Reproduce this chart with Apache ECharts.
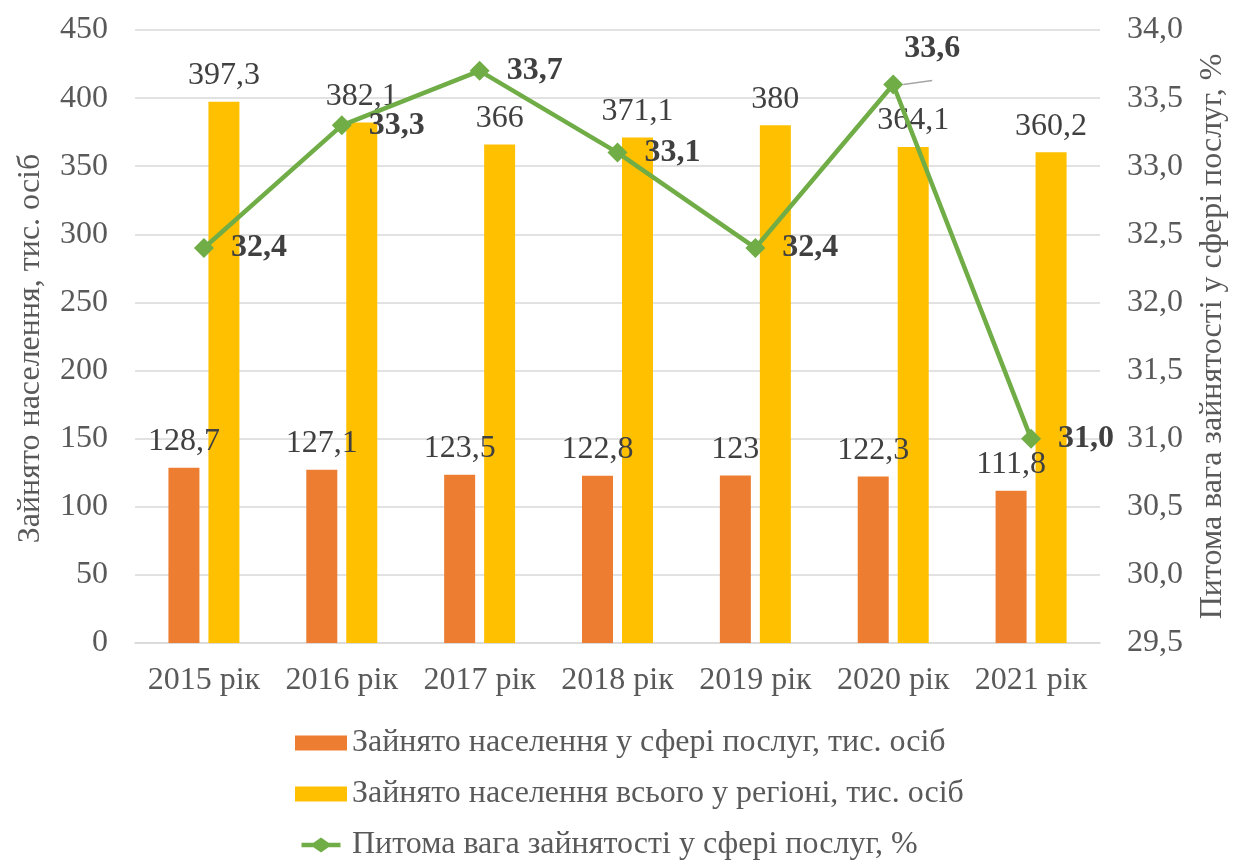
<!DOCTYPE html>
<html>
<head>
<meta charset="utf-8">
<script src="https://cdn.jsdelivr.net/npm/echarts@6/dist/echarts.min.js"></script>
<style>
  html, body { margin: 0; padding: 0; background: #fff; }
  #chart { width: 1237px; height: 861px; }
</style>
</head>
<body>
<div id="chart"></div>
<script>
// categories and values
const years = ['2015 рік', '2016 рік', '2017 рік', '2018 рік', '2019 рік', '2020 рік', '2021 рік'];
const servicesEmployed = [128.7, 127.1, 123.5, 122.8, 123, 122.3, 111.8];
const totalEmployed = [397.3, 382.1, 366, 371.1, 380, 364.1, 360.2];
const servicesShare = [32.4, 33.3, 33.7, 33.1, 32.4, 33.6, 31.0];

const seriesNames = [
  'Зайнято населення у сфері послуг, тис. осіб',
  'Зайнято населення всього у регіоні, тис. осіб',
  'Питома вага зайнятості у сфері послуг, %'
];

const FONT = '"Liberation Serif", "Times New Roman", serif';
const SIZE = 32;
const comma = v => String(v).replace('.', ',');

// legend icon for the line: thick stroke with a diamond in the middle
const lineIcon = 'path://M0 7L16 7L26 0L36 7L52 7L52 13L36 13L26 20L16 13L0 13Z';

const chart = echarts.init(document.getElementById('chart'));

const barLabel = {
  show: true,
  position: 'top',
  distance: 10,
  fontFamily: FONT,
  fontSize: SIZE,
  color: '#404040',
  formatter: p => comma(p.value)
};

const option = {
  backgroundColor: '#fff',
  animation: false,
  textStyle: { fontFamily: FONT },
  grid: {
    left: 135,
    right: 131,
    top: 30,
    bottom: 218
  },
  legend: {
    orient: 'vertical',
    left: 295,
    top: 727,
    height: 150,
    padding: 0,
    itemWidth: 52,
    itemHeight: 15,
    itemGap: 19,
    textStyle: { fontFamily: FONT, fontSize: SIZE, color: '#595959', lineHeight: 32 },
    data: [
      { name: seriesNames[0], icon: 'rect' },
      { name: seriesNames[1], icon: 'rect' },
      { name: seriesNames[2], icon: lineIcon }
    ]
  },
  xAxis: {
    type: 'category',
    data: years,
    axisTick: { show: false },
    axisLine: { lineStyle: { color: '#D9D9D9', width: 1.5 } },
    axisLabel: { interval: 0, fontFamily: FONT, fontSize: SIZE, color: '#595959', margin: 22 }
  },
  yAxis: [
    {
      type: 'value',
      min: 0,
      max: 450,
      interval: 50,
      name: 'Зайнято населення, тис. осіб',
      nameLocation: 'middle',
      nameRotate: 90,
      nameGap: 88,
      nameTextStyle: { fontFamily: FONT, fontSize: SIZE, color: '#595959', padding: [0, 24, 0, 0] },
      axisLine: { show: false },
      axisTick: { show: false },
      axisLabel: { fontFamily: FONT, fontSize: SIZE, color: '#595959', margin: 27 },
      splitLine: { lineStyle: { color: '#D9D9D9', width: 1.5 } }
    },
    {
      type: 'value',
      min: 29.5,
      max: 34,
      interval: 0.5,
      name: 'Питома вага зайнятості у сфері послуг, %',
      nameLocation: 'middle',
      nameRotate: 90,
      nameGap: 97,
      nameTextStyle: { fontFamily: FONT, fontSize: SIZE, color: '#595959' },
      axisLine: { show: false },
      axisTick: { show: false },
      axisLabel: {
        fontFamily: FONT, fontSize: SIZE, color: '#595959', margin: 27,
        formatter: v => v.toFixed(1).replace('.', ',')
      },
      splitLine: { show: false }
    }
  ],
  series: [
    {
      name: seriesNames[0],
      type: 'bar',
      data: servicesEmployed,
      barWidth: 31,
      barGap: '29%',
      itemStyle: { color: '#ED7D31' },
      label: barLabel
    },
    {
      name: seriesNames[1],
      type: 'bar',
      data: totalEmployed,
      barWidth: 31,
      barGap: '29%',
      itemStyle: { color: '#FFC000' },
      label: barLabel
    },
    {
      name: seriesNames[2],
      type: 'line',
      yAxisIndex: 1,
      data: servicesShare.map((v, i) => {
        // 2020 label sits above-right with a leader line
        if (i === 5) {
          return {
            value: v,
            label: { position: 'top', offset: [39, 7] },
            labelLine: { show: true, lineStyle: { color: '#A6A6A6', width: 1.5 } }
          };
        }
        return v;
      }),
      symbol: 'diamond',
      symbolSize: 20,
      lineStyle: { color: '#70AD47', width: 4.5 },
      itemStyle: { color: '#70AD47' },
      label: {
        show: true,
        position: 'right',
        distance: 17,
        fontFamily: FONT,
        fontSize: SIZE,
        fontWeight: 'bold',
        color: '#404040',
        formatter: p => p.value.toFixed(1).replace('.', ',')
      },
      labelLine: { show: false },
      z: 5
    }
  ]
};

chart.setOption(option);
</script>
</body>
</html>
